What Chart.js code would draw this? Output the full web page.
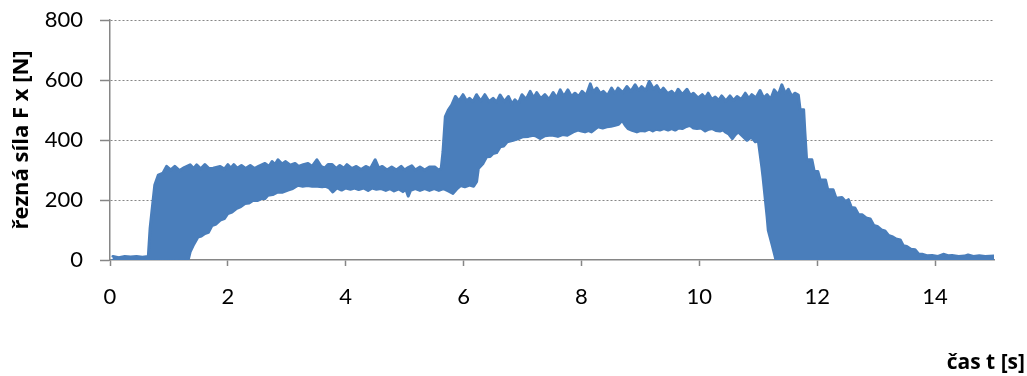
<!DOCTYPE html>
<html lang="cs">
<head>
<meta charset="utf-8">
<title>Řezná síla Fx</title>
<script src="https://cdn.jsdelivr.net/npm/chart.js"></script>
<style>
  html, body { margin: 0; padding: 0; background: #ffffff; }
  #wrap { position: relative; width: 1027px; height: 376px; }
</style>
</head>
<body>
<div id="wrap"><canvas id="graf"></canvas></div>
<script>
// Horní obálka síly Fx: čas [s] a hodnota [N]
const casHorni = [
  0.05, 0.15, 0.25, 0.35, 0.45, 0.55, 0.65, 0.68, 0.71, 0.76, 0.82, 0.90, 0.96, 1.03, 1.10, 1.18,
  1.26, 1.36, 1.42, 1.47, 1.54, 1.61, 1.68, 1.75, 1.87, 1.94, 2.00, 2.05, 2.10, 2.16, 2.23, 2.30,
  2.38, 2.45, 2.52, 2.63, 2.70, 2.75, 2.80, 2.85, 2.92, 2.98, 3.06, 3.14, 3.20, 3.28, 3.36, 3.43,
  3.51, 3.58, 3.64, 3.70, 3.77, 3.84, 3.90, 3.97, 4.02, 4.10, 4.18, 4.26, 4.34, 4.42, 4.50, 4.56,
  4.62, 4.70, 4.78, 4.86, 4.94, 5.00, 5.06, 5.12, 5.18, 5.26, 5.34, 5.42, 5.51, 5.57, 5.62, 5.65,
  5.69, 5.74, 5.80, 5.86, 5.92, 5.99, 6.05, 6.10, 6.16, 6.22, 6.29, 6.36, 6.43, 6.50, 6.56, 6.62,
  6.69, 6.76, 6.82, 6.87, 6.93, 6.99, 7.06, 7.13, 7.19, 7.24, 7.31, 7.38, 7.45, 7.52, 7.58, 7.64,
  7.70, 7.77, 7.83, 7.89, 7.95, 8.01, 8.08, 8.15, 8.20, 8.26, 8.32, 8.37, 8.44, 8.51, 8.57, 8.62,
  8.70, 8.77, 8.84, 8.91, 8.97, 9.02, 9.09, 9.15, 9.22, 9.28, 9.34, 9.39, 9.46, 9.53, 9.59, 9.64,
  9.71, 9.79, 9.85, 9.90, 9.98, 10.05, 10.10, 10.15, 10.21, 10.27, 10.33, 10.38, 10.45, 10.52, 10.58, 10.64,
  10.71, 10.78, 10.84, 10.89, 10.96, 11.03, 11.09, 11.15, 11.21, 11.27, 11.34, 11.40, 11.46, 11.51, 11.57, 11.62,
  11.68, 11.71, 11.77, 11.79, 11.82, 11.91, 11.95, 12.01, 12.05, 12.14, 12.18, 12.27, 12.32, 12.42, 12.48, 12.53,
  12.58, 12.64, 12.70, 12.76, 12.83, 12.90, 12.96, 13.02, 13.09, 13.15, 13.21, 13.27, 13.34, 13.41, 13.46, 13.52,
  13.59, 13.66, 13.72, 13.78, 13.86, 13.95, 14.05, 14.14, 14.22, 14.29, 14.40, 14.50, 14.56, 14.65, 14.75, 14.85,
  15.00
];
const silaHorni = [
  12, 8, 12, 10, 12, 9, 12, 105, 160, 250, 283, 290, 312, 300, 312, 298,
  308, 317, 305, 317, 304, 318, 305, 306, 312, 303, 318, 306, 318, 306, 315, 305,
  315, 305, 312, 322, 312, 328, 318, 334, 320, 328, 316, 322, 312, 318, 322, 312,
  334, 312, 306, 318, 318, 305, 315, 306, 318, 305, 312, 302, 312, 305, 334, 306,
  312, 300, 310, 300, 312, 300, 308, 314, 300, 310, 300, 310, 310, 300, 305, 360,
  478, 500, 517, 545, 530, 551, 530, 539, 528, 551, 530, 551, 528, 539, 526, 550,
  528, 545, 520, 534, 522, 551, 535, 562, 540, 558, 538, 551, 535, 558, 540, 567,
  545, 567, 545, 556, 545, 562, 548, 587, 560, 573, 555, 562, 548, 573, 555, 573,
  558, 578, 562, 584, 565, 578, 565, 595, 570, 581, 560, 573, 555, 562, 550, 569,
  552, 569, 548, 556, 540, 551, 540, 556, 535, 543, 532, 547, 530, 547, 532, 545,
  535, 556, 538, 551, 540, 565, 540, 551, 535, 567, 550, 584, 555, 569, 545, 556,
  550, 501, 501, 430, 335, 334, 295, 295, 267, 267, 234, 234, 206, 208, 195, 201,
  175, 173, 152, 151, 140, 137, 115, 112, 100, 97, 82, 78, 70, 67, 48, 45,
  36, 34, 20, 19, 14, 15, 12, 19, 14, 15, 12, 13, 17, 12, 14, 12,
  13
];

// Dolní obálka síly Fx: čas [s] a hodnota [N]
const casDolni = [
  0.05, 0.68, 1.33, 1.36, 1.41, 1.49, 1.55, 1.61, 1.67, 1.73, 1.80, 1.87, 1.94, 2.00, 2.07, 2.15,
  2.22, 2.29, 2.36, 2.43, 2.50, 2.58, 2.63, 2.68, 2.76, 2.85, 2.93, 3.02, 3.10, 3.19, 3.27, 3.35,
  3.43, 3.52, 3.60, 3.65, 3.72, 3.78, 3.85, 3.93, 4.00, 4.08, 4.15, 4.22, 4.30, 4.38, 4.45, 4.52,
  4.60, 4.68, 4.75, 4.82, 4.90, 4.97, 5.02, 5.06, 5.10, 5.18, 5.26, 5.34, 5.42, 5.50, 5.58, 5.66,
  5.74, 5.82, 5.88, 5.95, 6.02, 6.10, 6.17, 6.22, 6.25, 6.33, 6.39, 6.45, 6.50, 6.56, 6.62, 6.68,
  6.74, 6.84, 6.93, 7.01, 7.10, 7.18, 7.24, 7.30, 7.38, 7.45, 7.52, 7.60, 7.68, 7.76, 7.86, 7.94,
  8.00, 8.06, 8.12, 8.17, 8.28, 8.36, 8.43, 8.50, 8.57, 8.63, 8.69, 8.74, 8.79, 8.86, 8.94, 9.01,
  9.08, 9.15, 9.21, 9.27, 9.33, 9.40, 9.47, 9.53, 9.59, 9.65, 9.71, 9.78, 9.84, 9.90, 9.96, 10.03,
  10.10, 10.16, 10.22, 10.28, 10.35, 10.40, 10.44, 10.50, 10.56, 10.61, 10.66, 10.74, 10.81, 10.88, 10.95, 11.00,
  11.06, 11.08, 11.15, 11.17, 11.23, 11.28, 11.30, 15.00
];
const silaDolni = [
  0, 0, 3, 27, 48, 76, 80, 88, 92, 115, 120, 133, 138, 155, 160, 172,
  178, 188, 190, 199, 198, 205, 205, 216, 218, 227, 226, 233, 238, 249, 246, 248,
  246, 246, 244, 246, 240, 227, 240, 233, 240, 236, 240, 235, 240, 232, 240, 236,
  238, 232, 238, 230, 237, 228, 236, 213, 232, 238, 232, 238, 232, 238, 232, 238,
  230, 222, 236, 248, 244, 250, 246, 261, 305, 322, 344, 345, 355, 358, 377, 380,
  394, 399, 405, 411, 412, 416, 412, 405, 414, 416, 416, 412, 418, 416, 427, 433,
  430, 427, 431, 427, 444, 440, 444, 446, 449, 452, 466, 450, 438, 432, 427, 432,
  430, 436, 430, 436, 433, 438, 433, 438, 433, 440, 438, 445, 449, 440, 438, 440,
  430, 436, 438, 432, 430, 434, 427, 420, 405, 418, 427, 412, 399, 410, 394, 399,
  311, 277, 144, 99, 55, 16, 0, 0
];

// Popisky os
const xTicks = [0, 2, 4, 6, 8, 10, 12, 14];
const yTicks = [0, 200, 400, 600, 800];
const nazevX = 'čas t [s]';
const nazevY = 'řezná síla F x [N]';

const modra = '#4A7EBB';
const seda = '#868686';
const pismo = 'Lato, "Open Sans", sans-serif';
const pismoNazvu = '"Open Sans", Lato, sans-serif';

const body = (casy, hodnoty) => casy.map((t, i) => ({ x: t, y: hodnoty[i] }));

// Názvy os kreslené přímo do plátna
const nazvyOs = {
  id: 'nazvyOs',
  afterDraw(chart) {
    const ctx = chart.ctx;
    ctx.save();
    ctx.fillStyle = '#000000';
    ctx.font = 'bold 21px ' + pismoNazvu;
    ctx.textAlign = 'right';
    ctx.textBaseline = 'middle';
    ctx.fillText(nazevX, 1025, 363);
    ctx.font = 'bold 22px ' + pismoNazvu;
    ctx.translate(22, 140);
    ctx.rotate(-Math.PI / 2);
    ctx.textAlign = 'center';
    ctx.fillText(nazevY, 0, 0);
    ctx.restore();
  }
};

new Chart(document.getElementById('graf'), {
  type: 'line',
  data: {
    datasets: [
      {
        data: body(casHorni, silaHorni),
        borderColor: modra,
        backgroundColor: modra,
        borderWidth: 3,
        borderJoinStyle: 'round',
        borderCapStyle: 'round',
        pointRadius: 0,
        tension: 0,
        fill: '+1'
      },
      {
        data: body(casDolni, silaDolni),
        borderColor: modra,
        backgroundColor: modra,
        borderWidth: 3,
        borderJoinStyle: 'round',
        borderCapStyle: 'round',
        pointRadius: 0,
        tension: 0,
        fill: false
      }
    ]
  },
  options: {
    responsive: true,
    maintainAspectRatio: false,
    animation: false,
    events: [],
    layout: { padding: { top: 20, right: 33, left: 0, bottom: 0 } },
    plugins: {
      legend: { display: false },
      tooltip: { enabled: false }
    },
    scales: {
      x: {
        type: 'linear',
        min: 0,
        max: 15,
        afterBuildTicks(scale) { scale.ticks = xTicks.map(v => ({ value: v })); },
        afterFit(scale) {
          scale.height = 116;
          scale.paddingLeft = 0;
          scale.paddingRight = 0;
        },
        border: { color: seda, width: 1.5 },
        grid: {
          drawOnChartArea: false,
          drawTicks: true,
          tickLength: 6,
          tickColor: seda,
          tickWidth: 1.5
        },
        ticks: {
          color: '#000000',
          padding: 18,
          maxRotation: 0,
          font: { family: pismo, size: 22 }
        }
      },
      y: {
        min: 0,
        max: 800,
        afterBuildTicks(scale) { scale.ticks = yTicks.map(v => ({ value: v })); },
        afterFit(scale) {
          scale.width = 110;
          scale.paddingTop = 0;
          scale.paddingBottom = 0;
        },
        border: { color: seda, width: 1.5, dash: [2, 2] },
        grid: {
          color: (c) => (c.tick && c.tick.value === 0 ? 'rgba(0,0,0,0)' : seda),
          lineWidth: 1,
          drawTicks: true,
          tickLength: 10,
          tickColor: seda,
          tickWidth: 1.5,
          tickBorderDash: []
        },
        ticks: {
          color: '#000000',
          padding: 17,
          font: { family: pismo, size: 22 }
        }
      }
    }
  },
  plugins: [nazvyOs]
});
</script>
</body>
</html>
